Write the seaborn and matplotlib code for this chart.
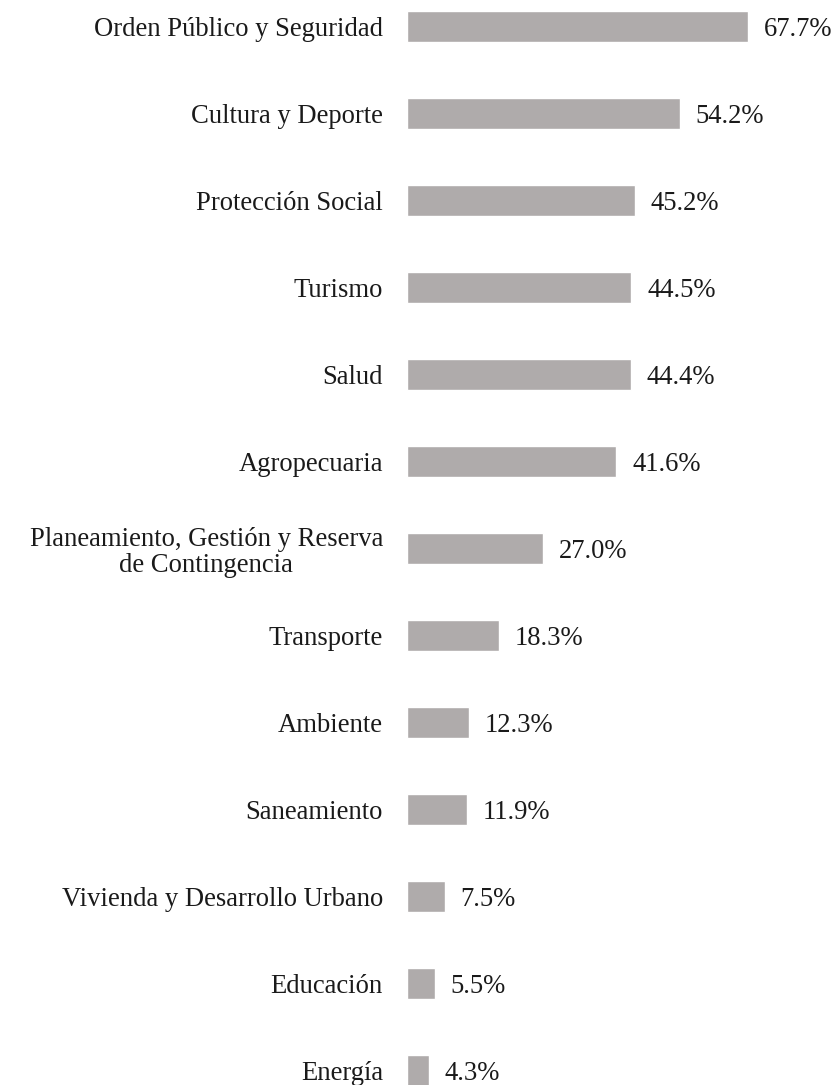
import matplotlib
matplotlib.use("Agg")
import matplotlib.pyplot as plt
import seaborn as sns
import pandas as pd

categorias = [
    "Orden Público y Seguridad",
    "Cultura y Deporte",
    "Protección Social",
    "Turismo",
    "Salud",
    "Agropecuaria",
    "Planeamiento, Gestión y Reserva\nde Contingencia",
    "Transporte",
    "Ambiente",
    "Saneamiento",
    "Vivienda y Desarrollo Urbano",
    "Educación",
    "Energía",
]
porcentajes = [67.7, 54.2, 45.2, 44.5, 44.4, 41.6, 27.0, 18.3, 12.3, 11.9, 7.5, 5.5, 4.3]

df = pd.DataFrame({"categoria": categorias, "porcentaje": porcentajes})

sns.set_theme(style="white")
plt.rcParams["font.family"] = ["Liberation Serif", "DejaVu Serif"]

fig = plt.figure(figsize=(8.38, 10.85), dpi=100)
ax = fig.add_axes([407 / 838, 0.0, (838 - 407) / 838, 1.0])

sns.barplot(data=df, x="porcentaje", y="categoria", orient="h",
            color="#AFABAB", saturation=1, width=0.356, ax=ax)

ax.set_xlim(0, 85.6)
ax.set_ylim(12.167, -0.305)

for cont in ax.containers:
    etiquetas = ax.bar_label(cont, labels=[f"{v:.1f}%" for v in porcentajes],
                             padding=11.5, fontsize=19.2, color="#1a1a1a")
    for t in etiquetas:
        t.set_va("center_baseline")

ax.set_yticks(range(len(categorias)))
ax.set_yticklabels(categorias, fontsize=19.2, color="#1a1a1a",
                   ha="right", multialignment="center", linespacing=1.1)
ax.tick_params(axis="y", length=0, pad=17.3)
ax.set_xticks([])
ax.set_xlabel("")
ax.set_ylabel("")
for s in ax.spines.values():
    s.set_visible(False)

fig.savefig("out.png", dpi=100)
